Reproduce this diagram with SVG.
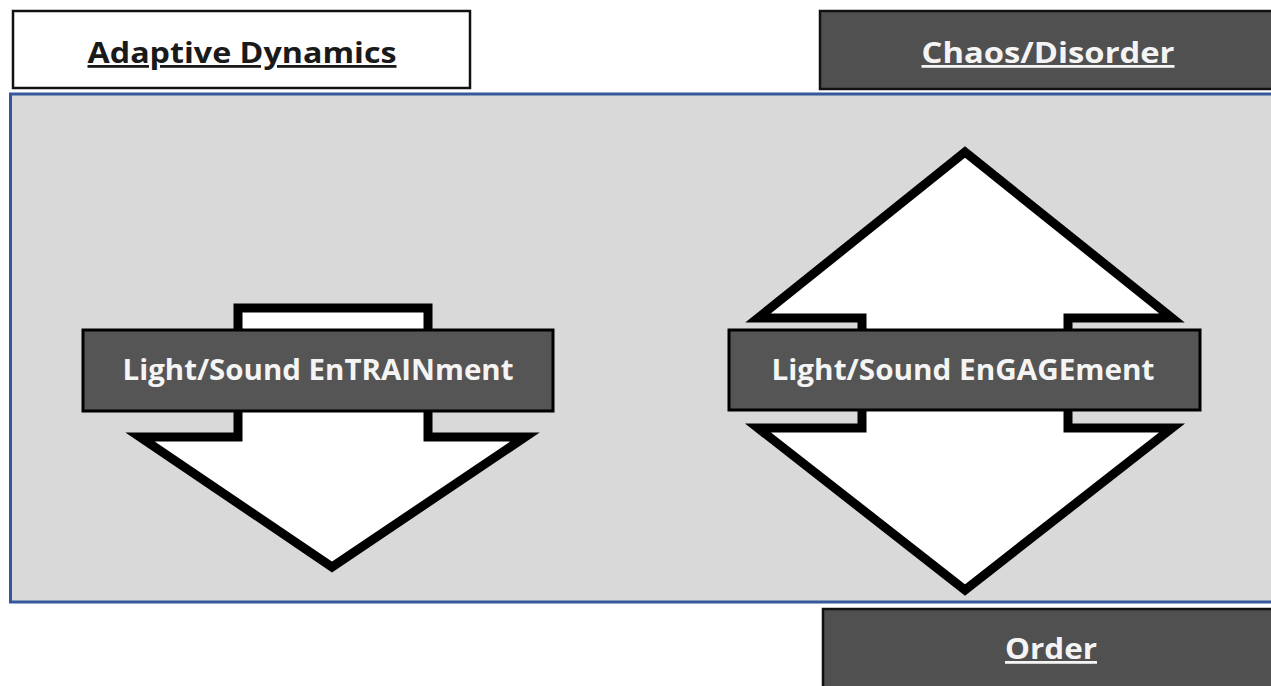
<svg xmlns="http://www.w3.org/2000/svg" width="1271" height="686" viewBox="0 0 1271 686">
  <style>
    .title { font-family: "Open Sans", "Liberation Sans", sans-serif; font-weight: 700; font-size: 28px; text-anchor: middle; text-decoration: underline; }
    .dark-box { fill: #505050; stroke: #111; stroke-width: 2.5; }
    .light-box { fill: #ffffff; stroke: #111; stroke-width: 2.5; }
    .arrow { fill: #ffffff; stroke: #000; stroke-width: 9; stroke-linejoin: miter; stroke-miterlimit: 10; }
    .bar { fill: #555555; stroke: #000; stroke-width: 3; }
    .bar-text { font-family: "Open Sans", "Liberation Sans", sans-serif; font-weight: 700; font-size: 28px; fill: #f4f4f4; text-anchor: middle; }
  </style>

  <rect width="1271" height="686" fill="#ffffff"/>

  <!-- central panel -->
  <g id="panel">
    <rect x="10.5" y="94" width="1270" height="508" fill="#d9d9d9" stroke="#34589c" stroke-width="3"/>
  </g>

  <!-- heading boxes -->
  <g id="adaptive-dynamics">
    <rect class="light-box" x="13" y="11" width="457" height="77"/>
    <text class="title" x="242" y="63" fill="#1a1a1a" textLength="309" lengthAdjust="spacingAndGlyphs">Adaptive Dynamics</text>
  </g>
  <g id="chaos-disorder">
    <rect class="dark-box" x="820" y="11" width="460" height="78"/>
    <text class="title" x="1048" y="63" fill="#f4f4f4" textLength="253" lengthAdjust="spacingAndGlyphs">Chaos/Disorder</text>
  </g>
  <g id="order">
    <rect class="dark-box" x="823" y="609" width="460" height="80"/>
    <text class="title" x="1051" y="659" fill="#f4f4f4" textLength="92" lengthAdjust="spacingAndGlyphs">Order</text>
  </g>

  <!-- entrainment: downward arrow -->
  <g id="entrainment">
    <path class="arrow" d="M238,308 L428,308 L428,437 L525,437 L332,567 L140,437 L238,437 Z"/>
    <rect class="bar" x="83" y="330" width="470" height="81"/>
    <text class="bar-text" x="318" y="380" textLength="391" lengthAdjust="spacingAndGlyphs">Light/Sound EnTRAINment</text>
  </g>

  <!-- engagement: double arrow -->
  <g id="engagement">
    <path class="arrow" d="M965,152 L1172,318 L1068,318 L1068,428 L1172,428 L965,590 L758,428 L862,428 L862,318 L758,318 Z"/>
    <rect class="bar" x="729" y="330" width="471" height="80"/>
    <text class="bar-text" x="963" y="380" textLength="383" lengthAdjust="spacingAndGlyphs">Light/Sound EnGAGEment</text>
  </g>

  <g id="connectors"/>
</svg>
